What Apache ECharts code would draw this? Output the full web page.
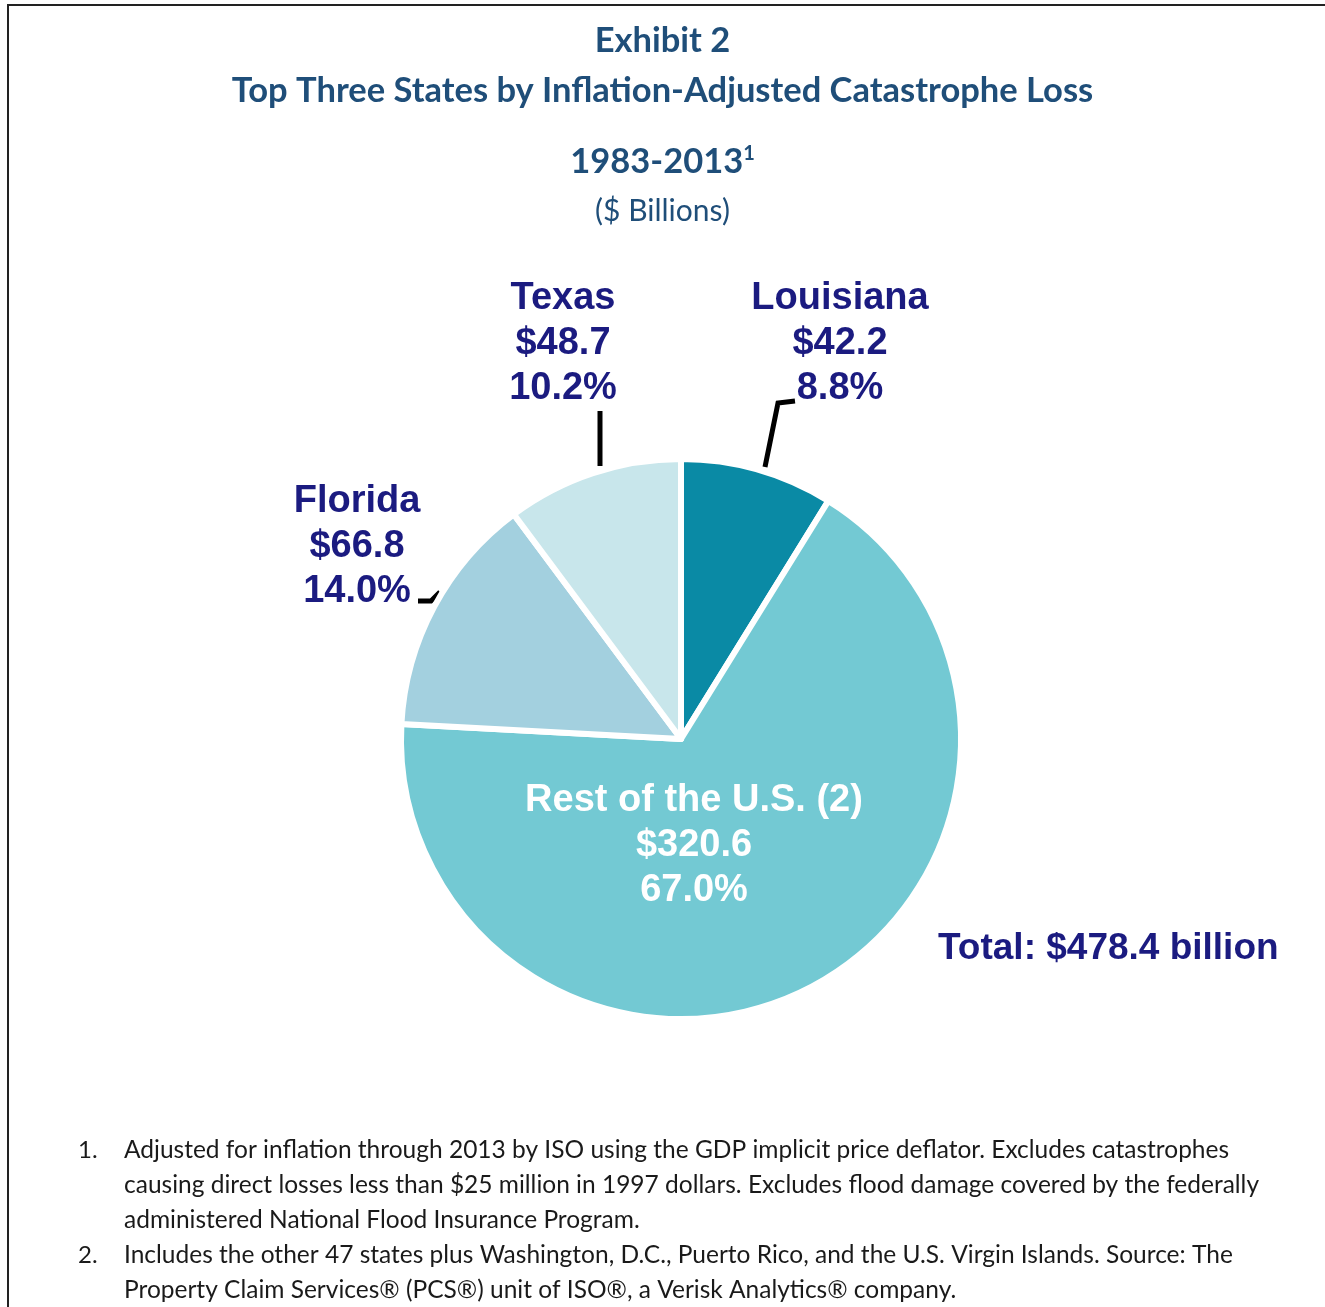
<!DOCTYPE html>
<html>
<head>
<meta charset="utf-8">
<script src="https://cdn.jsdelivr.net/npm/echarts@6/dist/echarts.min.js"></script>
<style>
  html, body { margin: 0; padding: 0; background: #ffffff; }
  #chart { width: 1325px; height: 1307px; }
</style>
</head>
<body>
<div id="chart"></div>
<script>
// ---- data ----
var sliceNames = ['Louisiana', 'Rest of the U.S. (2)', 'Florida', 'Texas'];
var sliceValues = [42.2, 320.6, 66.8, 48.7];
var slicePercents = ['8.8%', '67.0%', '14.0%', '10.2%'];
var sliceColors = ['#0a8aa5', '#73c9d3', '#a3d0df', '#c8e6eb'];
var totalText = 'Total: $478.4 billion';
var titleLines = ['Exhibit 2', 'Top Three States by Inflation-Adjusted Catastrophe Loss'];
var periodText = '1983-2013';
var unitText = '($ Billions)';
var footnotes = [
  ['1.', ['Adjusted for inflation through 2013 by ISO using the GDP implicit price deflator. Excludes catastrophes',
          'causing direct losses less than $25 million in 1997 dollars. Excludes flood damage covered by the federally',
          'administered National Flood Insurance Program.']],
  ['2.', ['Includes the other 47 states plus Washington, D.C., Puerto Rico, and the U.S. Virgin Islands. Source: The',
          'Property Claim Services\u00ae (PCS\u00ae) unit of ISO\u00ae, a Verisk Analytics\u00ae company.']]
];

var titleFont = 'Lato, "Open Sans", sans-serif';
var labelFont = '"Liberation Sans", Arial, sans-serif';
var navy = '#1b1b80';
var titleBlue = '#1f4e79';

var chart = echarts.init(document.getElementById('chart'), null, { renderer: 'canvas' });

// label placements (annotation positions)
var labelPlace = {
  'Louisiana': { x: 840, y: 344, line: [[765, 467], [778, 403], [795, 401]] },
  'Texas': { x: 563, y: 344, line: [[600, 466], [600, 440], [600, 411]] },
  'Florida': { x: 357, y: 547, line: [[440, 592], [431, 601], [418, 601]] },
  'Rest of the U.S. (2)': { x: 694, y: 846 }
};

var pieData = sliceNames.map(function (n, i) {
  var item = { name: n, value: sliceValues[i], itemStyle: { color: sliceColors[i] } };
  if (i === 1) {
    item.label = { position: 'inside', color: '#ffffff' };
    item.labelLine = { show: false };
  }
  return item;
});

// footnote graphics
var graphics = [
  { type: 'polyline', shape: { points: [[8, 1307], [8, 5], [1325, 5]] },
    style: { stroke: '#222222', lineWidth: 2, fill: null }, silent: true }
];
var fy = 1150;
footnotes.forEach(function (fn) {
  graphics.push({ type: 'text', x: 78, y: fy, style: { text: fn[0], font: '24px ' + titleFont, fill: '#1a1a1a', textVerticalAlign: 'middle' } });
  fn[1].forEach(function (line) {
    graphics.push({ type: 'text', x: 124, y: fy, style: { text: line, font: '24.5px ' + titleFont, fill: '#1a1a1a', textVerticalAlign: 'middle' } });
    fy += 35;
  });
});

var option = {
  backgroundColor: '#ffffff',
  animation: false,
  title: [
    { text: titleLines[0], left: 'center', top: 18,
      textStyle: { fontFamily: titleFont, fontWeight: 'bold', fontSize: 34.5, color: titleBlue } },
    { text: titleLines[1], left: 'center', top: 68,
      textStyle: { fontFamily: titleFont, fontWeight: 'bold', fontSize: 34.5, color: titleBlue } },
    { text: '{a|' + periodText + '}{s|1}', left: 'center', top: 139,
      textStyle: { rich: {
        a: { fontFamily: titleFont, fontWeight: 'bold', fontSize: 34.5, color: titleBlue },
        s: { fontFamily: titleFont, fontWeight: 'bold', fontSize: 20, color: titleBlue, verticalAlign: 'top', padding: [0, 0, 15, 0] }
      } } },
    { text: unitText, left: 'center', top: 191,
      textStyle: { fontFamily: titleFont, fontWeight: 'normal', fontSize: 30, color: titleBlue } },
    { text: totalText, left: 933, top: 925,
      textStyle: { fontFamily: labelFont, fontWeight: 'bold', fontSize: 37, color: navy } }
  ],
  graphic: graphics,
  series: [{
    type: 'pie',
    center: [681, 739],
    radius: [0, 280],
    startAngle: 90,
    clockwise: true,
    avoidLabelOverlap: false,
    itemStyle: { borderColor: '#ffffff', borderWidth: 6 },
    emphasis: { disabled: true },
    label: {
      show: true,
      position: 'outside',
      fontFamily: labelFont,
      fontWeight: 'bold',
      fontSize: 38,
      lineHeight: 45,
      color: navy,
      align: 'center',
      formatter: function (p) {
        return p.name + '\n$' + sliceValues[p.dataIndex].toFixed(1) + '\n' + slicePercents[p.dataIndex];
      }
    },
    labelLine: { show: true, lineStyle: { color: '#000000', width: 5 }, length: 20, length2: 10 },
    labelLayout: function (params) {
      var pl = labelPlace[sliceNames[params.dataIndex]];
      var r = { x: pl.x, y: pl.y, align: 'center', verticalAlign: 'middle' };
      if (pl.line) r.labelLinePoints = pl.line;
      return r;
    },
    data: pieData
  }]
};
chart.setOption(option);
</script>
</body>
</html>
